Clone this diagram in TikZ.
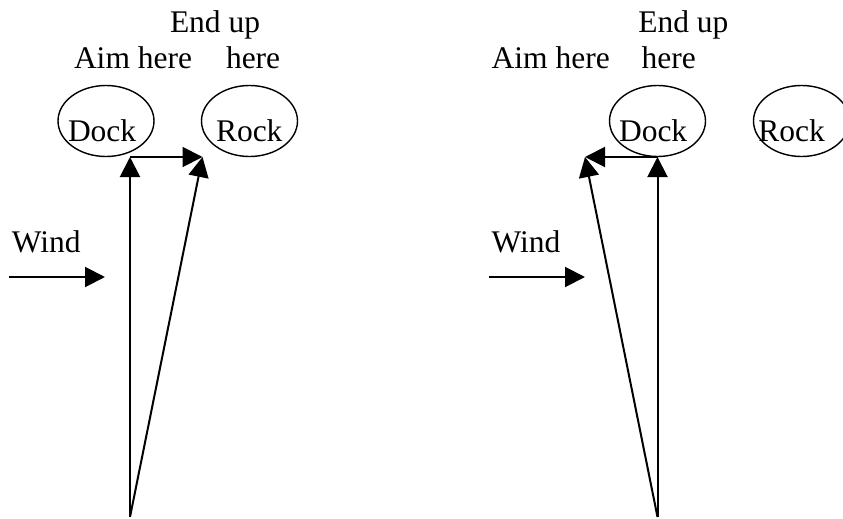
\documentclass[tikz,border=0pt]{standalone}
\usepackage{fontspec}
\setmainfont{Liberation Serif}
\usetikzlibrary{arrows.meta,shapes.geometric}

\tikzset{
  lbl/.style={anchor=base west, inner sep=0pt, outer sep=0pt,
              font=\fontsize{31.5}{36}\selectfont},
  place/.style={draw, ellipse, line width=1.4pt, inner sep=0pt,
                minimum width=96pt, minimum height=71pt},
  course/.style={line width=2pt, -{Triangle[length=20pt,width=20pt]}},
  wind/.style={line width=2pt, -{Triangle[length=20pt,width=20pt]}}
}

\begin{document}
\begin{tikzpicture}[x=1pt,y=-1pt]
  \useasboundingbox (0,0) rectangle (843,519);

  % ---------- left: aiming straight at the dock ----------
  \node[lbl] (endupL) at (170,32.3) {End up};
  \node[lbl] (aimL)   at (74,68) {Aim here};
  \node[lbl] (hereL)  at (226,68) {here};
  \node[place] (dockL) at (106,121) {};
  \node[place] (rockL) at (249.5,121) {};
  \node[lbl] (docktxtL) at (68,141) {Dock};
  \node[lbl] (rocktxtL) at (216,141) {Rock};
  \node[lbl] (windtxtL) at (12,252) {Wind};

  \coordinate (startL) at (130,517);
  \coordinate (aimptL) at (130,157);
  \coordinate (endptL) at (202.5,157);
  \coordinate (windaL) at (9,277);
  \coordinate (windbL) at (105,277);

  \draw[course] (startL) -- (aimptL);
  \draw[course] (aimptL) -- (endptL);
  \draw[course] (startL) -- (endptL);
  \draw[wind] (windaL) -- (windbL);

  % ---------- right: aiming upwind of the dock ----------
  \node[lbl] (endupR) at (638.3,32.3) {End up};
  \node[lbl] (aimR)   at (491.7,68) {Aim here};
  \node[lbl] (hereR)  at (641.7,68) {here};
  \node[place] (dockR) at (657.5,121) {};
  \node[place] (rockR) at (801.5,121) {};
  \node[lbl] (docktxtR) at (619,141) {Dock};
  \node[lbl] (rocktxtR) at (758.3,141) {Rock};
  \node[lbl] (windtxtR) at (491.7,252) {Wind};

  \coordinate (startR) at (657.5,517);
  \coordinate (aimptR) at (657.5,157);
  \coordinate (endptR) at (585,157);
  \coordinate (windaR) at (489,277);
  \coordinate (windbR) at (585,277);

  \draw[course] (startR) -- (aimptR);
  \draw[course] (aimptR) -- (endptR);
  \draw[course] (startR) -- (endptR);
  \draw[wind] (windaR) -- (windbR);
\end{tikzpicture}
\end{document}
